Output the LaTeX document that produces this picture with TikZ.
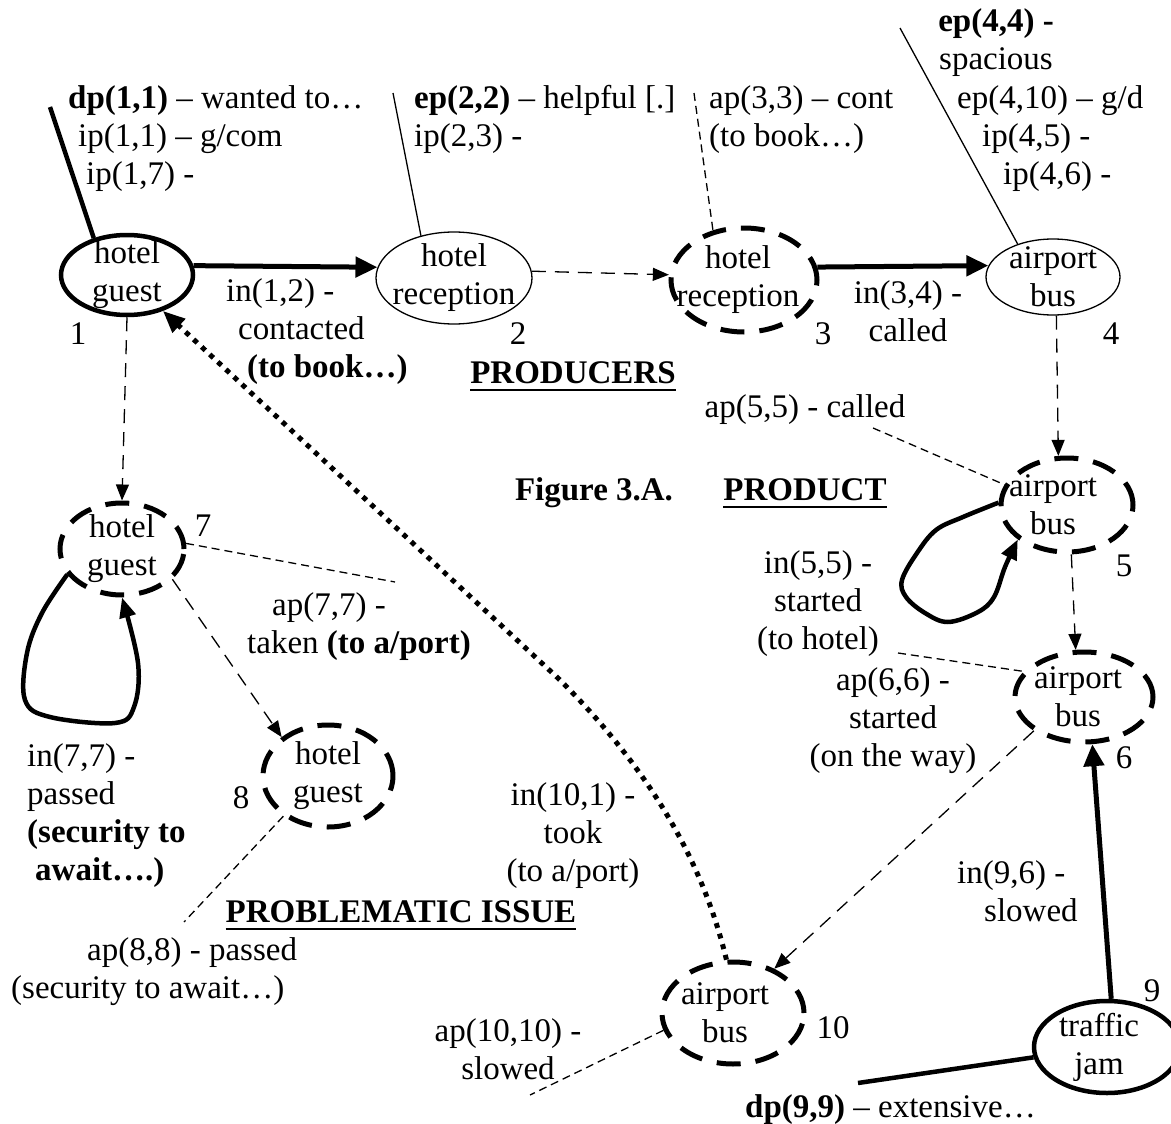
\documentclass[tikz,border=0pt]{standalone}
\usepackage{fontspec}
\setmainfont{Liberation Serif}
\usetikzlibrary{shapes.geometric, arrows.meta, positioning}

\begin{document}
\begin{tikzpicture}[
    x=1pt, y=-1pt,
    font=\fontsize{33}{38}\selectfont,
    every node/.style={inner sep=0pt},
    esize/.style 2 args={minimum width=#1, minimum height=#2},
    solidactor/.style={ellipse, draw, line width=4.5pt},
    thinactor/.style={ellipse, draw, line width=1.3pt},
    dashactor/.style={ellipse, draw, line width=5pt, dash pattern=on 24pt off 15pt},
    intext/.style={label={[align=center]center:#1}},
    strong/.style={line width=5pt, -{Triangle[length=22pt, width=20pt]}},
    weak/.style={line width=1.3pt, dash pattern=on 14pt off 9pt, -{Triangle[length=16pt, width=13pt]}},
    dotty/.style={line width=5pt, dash pattern=on 5pt off 6pt, -{Triangle[length=22pt, width=18pt]}},
    loopy/.style={line width=4.5pt, line join=round, -{Triangle[length=20pt, width=16pt]}},
    link/.style={line width=1.3pt},
    dlink/.style={line width=1.3pt, dash pattern=on 8pt off 5pt},
    heavylink/.style={line width=4.5pt},
    num/.style={anchor=base},
    heading/.style={font=\fontsize{33}{38}\selectfont\bfseries, anchor=base}
]
\useasboundingbox (0,0) rectangle (1171,1124);

% Producers
\node[solidactor, esize={132pt}{80pt}, intext={hotel\\guest}] (guest1) at (127,275) {};
\node[thinactor, esize={156pt}{92pt}, intext={hotel\\reception}] (recep2) at (454,278) {};
\node[dashactor, esize={146pt}{104pt}, label={[align=center, xshift=-6pt]center:hotel\\reception}] (recep3) at (744,280) {};
\node[thinactor, esize={134pt}{76pt}, intext={airport\\bus}] (bus4) at (1053,277) {};

% Product
\node[dashactor, esize={132pt}{94pt}, label={[align=center, xshift=-14pt]center:airport\\bus}] (bus5) at (1067,505) {};
\node[dashactor, esize={138pt}{90pt}, label={[align=center, xshift=-6pt]center:airport\\bus}] (bus6) at (1084,697) {};
\node[dashactor, esize={124pt}{92pt}, intext={hotel\\guest}] (guest7) at (122,549) {};
\node[dashactor, esize={130pt}{102pt}, intext={hotel\\guest}] (guest8) at (328,776) {};

% Problematic issue
\node[solidactor, esize={146pt}{92pt}, label={[align=center, xshift=-8pt]center:traffic\\jam}] (jam9) at (1107,1047) {};
\node[dashactor, esize={142pt}{102pt}, label={[align=center, xshift=-8pt]center:airport\\bus}] (bus10) at (733,1013) {};

% Numbers
\foreach \n/\x/\y in {1/78/344, 2/518/344, 3/823/344, 4/1111/344, 5/1124/576,
                      6/1124/768, 7/203/536, 8/241/808, 9/1152/1001, 10/833/1038}
  \node[num] (num\n) at (\x,\y) {\n};

% Connections
\draw[strong] (guest1.8) -- (recep2.172);
\draw[weak] (recep2.5) -- (recep3.176);
\draw[strong] (recep3.10) -- (bus4.170);
\draw[weak] (bus4.-85) -- (bus5.100);
\draw[weak] (bus5.-85) -- (bus6.100);
\draw[weak] (bus6.214) -- (bus10.47);
\draw[strong] (jam9.85) -- (bus6.-80);
\draw[dotty] (bus10.97) .. controls (700,850) and (640,760) .. (560,680) -- (guest1.-45);
\draw[weak] (guest1.-90) -- (guest7.north);
\draw[weak] (guest7.-31) -- (guest8.140);
\draw[loopy] plot[smooth, tension=0.6] coordinates {(guest7.205) (42,613) (27,653) (25,700) (50,717) (115,723) (134,707) (138,663) (guest7.-90)};
\draw[loopy] plot[smooth, tension=0.6] coordinates {(bus5.178) (963,517) (936,530) (917,553) (902,580) (906,597) (925,613) (948,622) (978,612) (994,597) (1005,567) (bus5.215)};

% Annotation leaders
\coordinate (c11) at (50,107);
\coordinate (c22) at (393,93);
\coordinate (c33) at (694,93);
\coordinate (c44) at (900,28);
\coordinate (c55) at (873,428);
\coordinate (c66) at (898,653);
\coordinate (c77) at (395,582);
\coordinate (c88) at (184,922);
\coordinate (c1010) at (530,1095);
\coordinate (c99) at (858,1083);
\draw[heavylink] (c11) -- (guest1.132);
\draw[link] (c22) -- (recep2.128);
\draw[dlink] (c33) -- (recep3.122);
\draw[link] (c44) -- (bus4.137);
\draw[dlink] (c55) -- (bus5.162);
\draw[dlink] (c66) -- (bus6.157);
\draw[dlink] (guest7.5) -- (c77);
\draw[dlink] (guest8.222) -- (c88);
\draw[dlink] (bus10.194) -- (c1010);
\draw[heavylink] (jam9.188) -- (c99);

% Annotations
\node[anchor=north west, align=left] (dp11) at (68,85) {\textbf{dp(1,1)} – wanted to…\\\hspace*{10pt}ip(1,1) – g/com\\\hspace*{18pt}ip(1,7) -};
\node[anchor=north west, align=left] (ep22) at (414,85) {\textbf{ep(2,2)} – helpful [.]\\ip(2,3) -};
\node[anchor=north west, align=left] (ap33) at (709,85) {ap(3,3) – cont\\(to book…)};
\node[anchor=north, align=center] (ep44) at (996,8) {\textbf{ep(4,4) -}\\spacious};
\node[anchor=north west, align=left] (ep410) at (957,85) {ep(4,10) – g/d\\\hspace*{25pt}ip(4,5) -\\\hspace*{46pt}ip(4,6) -};
\node[anchor=north west, align=left] (in12) at (226,278) {in(1,2) -\\\hspace*{12pt}contacted\\\hspace*{21pt}\textbf{(to book…)}};
\node[anchor=north, align=center] (in34) at (908,280) {in(3,4) -\\called};
\node[anchor=base] (ap55) at (805,417) {ap(5,5) - called};
\node[anchor=north, align=center] (in55) at (818,550) {in(5,5) -\\started\\(to hotel)};
\node[anchor=north, align=center] (ap66) at (893,667) {ap(6,6) -\\started\\(on the way)};
\node[anchor=north west, align=left] (in96) at (957,860) {in(9,6) -\\\hspace*{27pt}slowed};
\node[anchor=base west] (dp99) at (745,1117) {\textbf{dp(9,9)} – extensive…};
\node[anchor=north, align=center] (ap1010) at (508,1018) {ap(10,10) -\\slowed};
\node[anchor=north, align=center] (in101) at (573,782) {in(10,1) -\\took\\(to a/port)};
\node[anchor=north west, align=left] (ap88) at (11,937) {\hspace*{76pt}ap(8,8) - passed\\(security to await…)};
\node[anchor=north west, align=left] (in77) at (27,743) {in(7,7) -\\passed\\\textbf{(security to}\\\hspace*{8pt}\textbf{await….)}};
\node[anchor=north west, align=left] (ap77) at (247,592) {\hspace*{25pt}ap(7,7) -\\taken \textbf{(to a/port)}};

% Headings
\node[heading] (producers) at (573,383) {PRODUCERS};
\node[heading] (fig) at (594,500) {Figure 3.A.};
\node[heading] (product) at (805,500) {PRODUCT};
\node[heading] (issue) at (401,922) {PROBLEMATIC ISSUE};
\foreach \h in {producers, product, issue}
  \draw[line width=2.5pt] ([yshift=-7pt]\h.base west) -- ([yshift=-7pt]\h.base east);

\end{tikzpicture}
\end{document}
